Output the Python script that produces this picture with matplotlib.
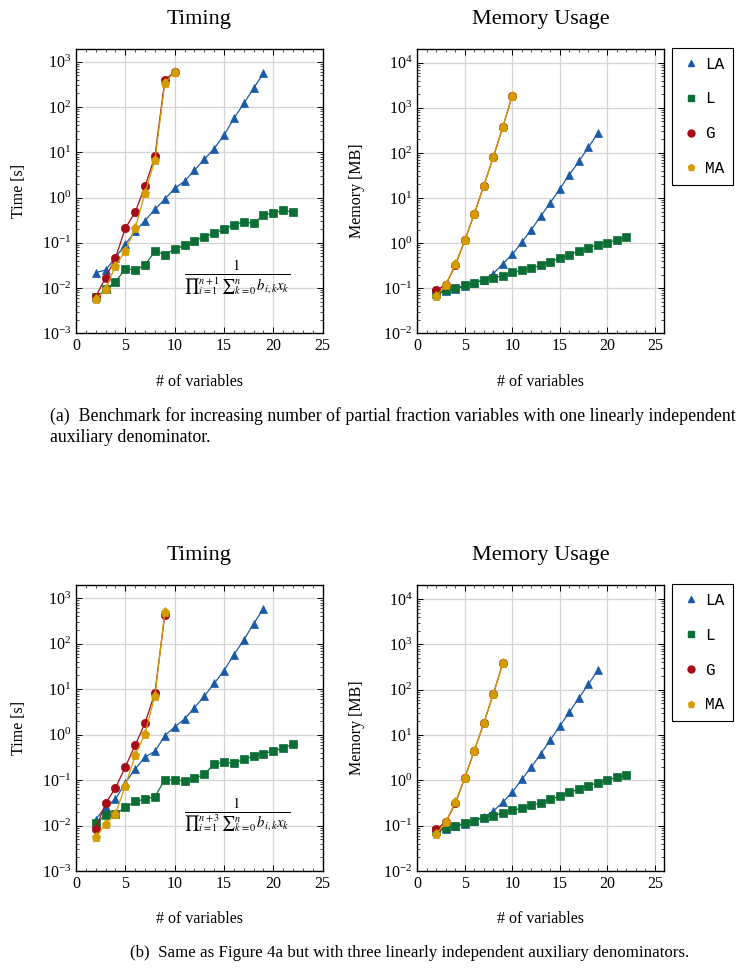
import matplotlib
matplotlib.use("Agg")
from matplotlib import pyplot as plt
from matplotlib.ticker import MultipleLocator, LogLocator, NullFormatter

plt.rcParams["font.family"] = "Liberation Serif"
plt.rcParams["mathtext.fontset"] = "stix"

# ---------------------- data
x_la = list(range(2, 20))
x_l = list(range(2, 23))
x_g_a = list(range(2, 11))
x_g_b = list(range(2, 10))

# (a) one auxiliary denominator
la_time_a = [0.022, 0.025, 0.047, 0.093, 0.18, 0.31, 0.55, 0.92, 1.6, 2.3, 4.0, 7.0, 12.1, 24, 56, 120, 260, 565]
l_time_a = [0.0062, 0.0093, 0.0136, 0.027, 0.025, 0.032, 0.066, 0.055, 0.072, 0.088, 0.11,
            0.137, 0.162, 0.20, 0.25, 0.29, 0.27, 0.41, 0.46, 0.52, 0.48]
g_time_a = [0.0065, 0.017, 0.046, 0.21, 0.48, 1.78, 8.1, 395, 605]
ma_time_a = [0.0056, 0.0093, 0.031, 0.066, 0.21, 1.25, 6.8, 340, 605]

la_mem_a = [0.075, 0.085, 0.097, 0.11, 0.13, 0.155, 0.21, 0.35, 0.56, 1.05, 2.0, 4.0, 7.9, 16, 33, 65, 134, 272]
l_mem_a = [0.078, 0.089, 0.1, 0.115, 0.133, 0.15, 0.17, 0.19, 0.225, 0.25, 0.28, 0.32,
           0.39, 0.46, 0.55, 0.67, 0.79, 0.92, 1.03, 1.16, 1.36]
g_mem_a = [0.089, 0.12, 0.32, 1.15, 4.5, 18.8, 81, 380, 1870]
ma_mem_a = [0.066, 0.12, 0.34, 1.15, 4.5, 18.8, 81, 380, 1870]

# (b) three auxiliary denominators
la_time_b = [0.0135, 0.026, 0.038, 0.087, 0.175, 0.32, 0.43, 0.95, 1.47, 2.2, 3.9, 7.0, 13.3, 25.6, 57, 120, 275, 590]
l_time_b = [0.0114, 0.0167, 0.018, 0.025, 0.034, 0.038, 0.043, 0.102, 0.099, 0.097, 0.109,
            0.134, 0.226, 0.246, 0.234, 0.287, 0.333, 0.38, 0.44, 0.50, 0.62]
g_time_b = [0.0085, 0.031, 0.067, 0.195, 0.59, 1.8, 8.3, 437]
ma_time_b = [0.0056, 0.0108, 0.018, 0.075, 0.35, 1.05, 7.2, 495]

la_mem_b = [0.075, 0.085, 0.097, 0.11, 0.13, 0.155, 0.21, 0.33, 0.55, 1.05, 1.97, 3.9, 7.8, 15.9, 32, 66, 132, 270]
l_mem_b = [0.078, 0.09, 0.1, 0.114, 0.13, 0.15, 0.166, 0.19, 0.22, 0.24, 0.28, 0.32,
           0.38, 0.45, 0.54, 0.64, 0.76, 0.89, 1.02, 1.16, 1.33]
g_mem_b = [0.085, 0.12, 0.31, 1.15, 4.5, 18.5, 81, 385]
ma_mem_b = [0.066, 0.12, 0.33, 1.15, 4.5, 18.5, 81, 385]

labels = ["LA", "L", "G", "MA"]
colors = ["#1a5aa6", "#0b6e34", "#a50d18", "#d39c00"]
markers = ["^", "s", "o", "p"]

W, H = 745, 969
fig = plt.figure(figsize=(W / 100, H / 100), dpi=100)


def axes_px(left, top, right, bottom):
    return fig.add_axes([left / W, 1 - bottom / H, (right - left) / W, (bottom - top) / H])


def style(ax, xmax, ymin, ymax):
    ax.set_yscale("log")
    ax.set_xlim(0, xmax)
    ax.set_ylim(ymin, ymax)
    ax.xaxis.set_major_locator(MultipleLocator(5))
    ax.xaxis.set_minor_locator(MultipleLocator(1))
    ax.yaxis.set_major_locator(LogLocator(base=10, numticks=20))
    ax.yaxis.set_minor_locator(LogLocator(base=10, subs=range(2, 10), numticks=20))
    ax.yaxis.set_minor_formatter(NullFormatter())
    ax.tick_params(which="both", direction="in", top=True, right=True, labelsize=11.5)
    ax.tick_params(which="major", length=4, width=0.7)
    ax.tick_params(which="minor", length=2.3, width=0.5)
    ax.grid(True, which="major", color="#d4d4d4", linewidth=0.9)
    ax.set_axisbelow(True)
    for s in ax.spines.values():
        s.set_linewidth(1.0)
    ax.set_xlabel("# of variables", fontsize=11.5, labelpad=14)


def draw(ax, series, x_g):
    xs = [x_la, x_l, x_g, x_g]
    for i, (x, y) in enumerate(zip(xs, series)):
        ax.plot(x, y, color=colors[i], marker=markers[i], markersize=6 if i != 3 else 6.8,
                linewidth=0.9, markeredgewidth=0.5, label=labels[i], zorder=3 + i)


def legend(ax):
    handles = [plt.Line2D([], [], color=c, marker=m, linestyle="none", markersize=5)
               for c, m in zip(colors, markers)]
    leg = ax.legend(handles, labels, loc="upper left", bbox_to_anchor=(1.033, 1.003),
                    prop={"family": "Liberation Mono", "size": 11.5},
                    frameon=True, fancybox=False, edgecolor="black", framealpha=1,
                    borderpad=0.55, labelspacing=1.24, handlelength=1.3, handletextpad=0.2,
                    borderaxespad=0)
    leg.get_frame().set_linewidth(0.8)


frac_a = "$\\frac{1}{\u220f_{i=1}^{n+1}\\,\u2211_{k=0}^{n}\\, b_{i,k}x_k}$"
frac_b = "$\\frac{1}{\u220f_{i=1}^{n+3}\\,\u2211_{k=0}^{n}\\, b_{i,k}x_k}$"

panels = [
    (48.7, 333.3, (la_time_a, l_time_a, g_time_a, ma_time_a), (la_mem_a, l_mem_a, g_mem_a, ma_mem_a), x_g_a, frac_a),
    (585.0, 871.0, (la_time_b, l_time_b, g_time_b, ma_time_b), (la_mem_b, l_mem_b, g_mem_b, ma_mem_b), x_g_b, frac_b),
]

for top, bottom, time_s, mem_s, x_g, frac in panels:
    ax1 = axes_px(76, top, 322.7, bottom)
    style(ax1, 25, 1e-3, 10 ** 3.29)
    draw(ax1, time_s, x_g)
    ax1.set_ylabel("Time [s]", fontsize=11.5)
    ax1.yaxis.set_label_coords(-0.20, 0.5)
    ax1.text(16.3, 10 ** -1.78, frac, ha="center", va="center", fontsize=15)
    ax1.text(0.5, 1 + 25 / (bottom - top), "Timing", transform=ax1.transAxes,
             ha="center", va="baseline", fontsize=16)

    ax2 = axes_px(417.3, top, 664, bottom)
    style(ax2, 25.95, 1e-2, 10 ** 4.31)
    draw(ax2, mem_s, x_g)
    ax2.set_ylabel("Memory [MB]", fontsize=11.5)
    ax2.yaxis.set_label_coords(-0.21, 0.5)
    ax2.text(0.5, 1 + 25 / (bottom - top), "Memory Usage", transform=ax2.transAxes,
             ha="center", va="baseline", fontsize=16)
    legend(ax2)

fig.text(50 / W, 1 - 416 / H, "(a)  Benchmark for increasing number of partial fraction variables with one linearly independent",
         ha="left", va="center", fontsize=12.8)
fig.text(50 / W, 1 - 437 / H, "auxiliary denominator.", ha="left", va="center", fontsize=12.8)
fig.text(130 / W, 1 - 953 / H, "(b)  Same as Figure 4a but with three linearly independent auxiliary denominators.",
         ha="left", va="center", fontsize=12.2)

fig.savefig("out.png", dpi=100)
